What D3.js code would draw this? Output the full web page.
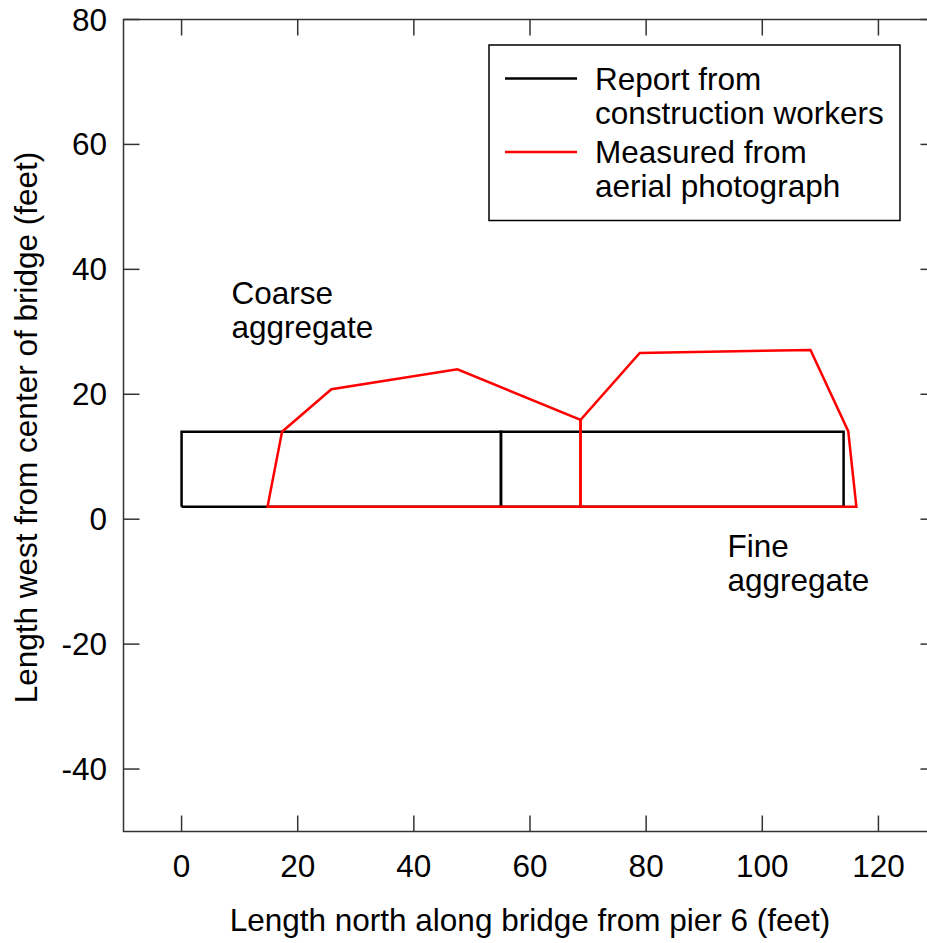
<!DOCTYPE html>
<html>
<head>
<meta charset="utf-8">
<script src="https://cdn.jsdelivr.net/npm/d3@7"></script>
<style>
  body { margin: 0; background: #fff; }
  svg { display: block; font-family: "Liberation Sans", Arial, sans-serif; }
</style>
</head>
<body>
<svg id="chart" width="927" height="943"></svg>
<script>
// reported pour areas (black), as closed outlines [x, y]
const reportLeft = [[0, 2], [0, 14], [55, 14], [55, 2], [0, 2]];
const reportRight = [[55, 2], [55, 14], [114, 14], [114, 2], [55, 2]];
// (red)
const measuredLeft = [[68.7, 2], [14.8, 2], [17.3, 14], [25.8, 20.8], [47.5, 24], [68.7, 15.9], [68.7, 2]];
const measuredRight = [[68.7, 2], [68.7, 15.9], [78.9, 26.6], [108.3, 27.1], [114.8, 14.1], [116.2, 2], [68.7, 2]];

const xTicks = [0, 20, 40, 60, 80, 100, 120];
const yTicks = [-40, -20, 0, 20, 40, 60, 80];

const legendItems = [
  { lines: ['Report from', 'construction workers'], color: '#000' },
  { lines: ['Measured from', 'aerial photograph'], color: '#ff0000' }
];
const notes = [
  { x: 8.6, y: 34.5, lines: ['Coarse', 'aggregate'] },
  { x: 94.0, y: -6.0, lines: ['Fine', 'aggregate'] }
];

const fs = 31.5;
const svg = d3.select('#chart');
const x = d3.scaleLinear().domain([-10, 130]).range([123.5, 936.5]);
const y = d3.scaleLinear().domain([-50, 80]).range([831.5, 19.5]);

const frame = '#333';
const [x0, x1] = x.range();
const [y0, y1] = y.range();

// frame
svg.append('rect')
  .attr('x', x0).attr('y', y1)
  .attr('width', x1 - x0).attr('height', y0 - y1)
  .attr('fill', 'none').attr('stroke', frame).attr('stroke-width', 1.5);

// ticks, inward on all four sides
const tl = 16;
xTicks.forEach(t => {
  svg.append('line').attr('x1', x(t)).attr('x2', x(t)).attr('y1', y0).attr('y2', y0 - tl)
    .attr('stroke', frame).attr('stroke-width', 1.5);
  svg.append('line').attr('x1', x(t)).attr('x2', x(t)).attr('y1', y1).attr('y2', y1 + tl)
    .attr('stroke', frame).attr('stroke-width', 1.5);
  svg.append('text').attr('x', x(t)).attr('y', 877)
    .attr('text-anchor', 'middle').attr('font-size', fs).text(t);
});
yTicks.forEach(t => {
  svg.append('line').attr('x1', x0).attr('x2', x0 + tl).attr('y1', y(t)).attr('y2', y(t))
    .attr('stroke', frame).attr('stroke-width', 1.5);
  svg.append('line').attr('x1', x1).attr('x2', x1 - tl).attr('y1', y(t)).attr('y2', y(t))
    .attr('stroke', frame).attr('stroke-width', 1.5);
  svg.append('text').attr('x', 107).attr('y', y(t) + 11)
    .attr('text-anchor', 'end').attr('font-size', fs).text(t);
});

// axis titles
svg.append('text')
  .attr('x', (x0 + x1) / 2).attr('y', 931)
  .attr('text-anchor', 'middle').attr('font-size', fs)
  .text('Length north along bridge from pier 6 (feet)');
svg.append('text')
  .attr('transform', `translate(37, ${(y0 + y1) / 2 + 2}) rotate(-90)`)
  .attr('text-anchor', 'middle').attr('font-size', fs)
  .text('Length west from center of bridge (feet)');

const line = d3.line().x(d => x(d[0])).y(d => y(d[1]));

[reportLeft, reportRight].forEach(d => {
  svg.append('path').attr('d', line(d))
    .attr('fill', 'none').attr('stroke', '#000').attr('stroke-width', 2.5);
});
[measuredLeft, measuredRight].forEach(d => {
  svg.append('path').attr('d', line(d))
    .attr('fill', 'none').attr('stroke', '#ff0000').attr('stroke-width', 2.5);
});

// annotations
notes.forEach(n => {
  n.lines.forEach((s, i) => {
    svg.append('text').attr('x', x(n.x)).attr('y', y(n.y) + i * 34)
      .attr('font-size', fs).text(s);
  });
});

// legend
const lg = svg.append('g');
lg.append('rect')
  .attr('x', 489).attr('y', 45).attr('width', 411).attr('height', 175.5)
  .attr('fill', '#fff').attr('stroke', '#000').attr('stroke-width', 1.5);
legendItems.forEach((it, i) => {
  const top = 78.5 + i * 73.5;
  lg.append('line').attr('x1', 505).attr('x2', 577).attr('y1', top).attr('y2', top)
    .attr('stroke', it.color).attr('stroke-width', 2.5);
  it.lines.forEach((s, j) => {
    lg.append('text').attr('x', 595).attr('y', top + 11 + j * 34)
      .attr('font-size', fs).text(s);
  });
});
</script>
</body>
</html>
